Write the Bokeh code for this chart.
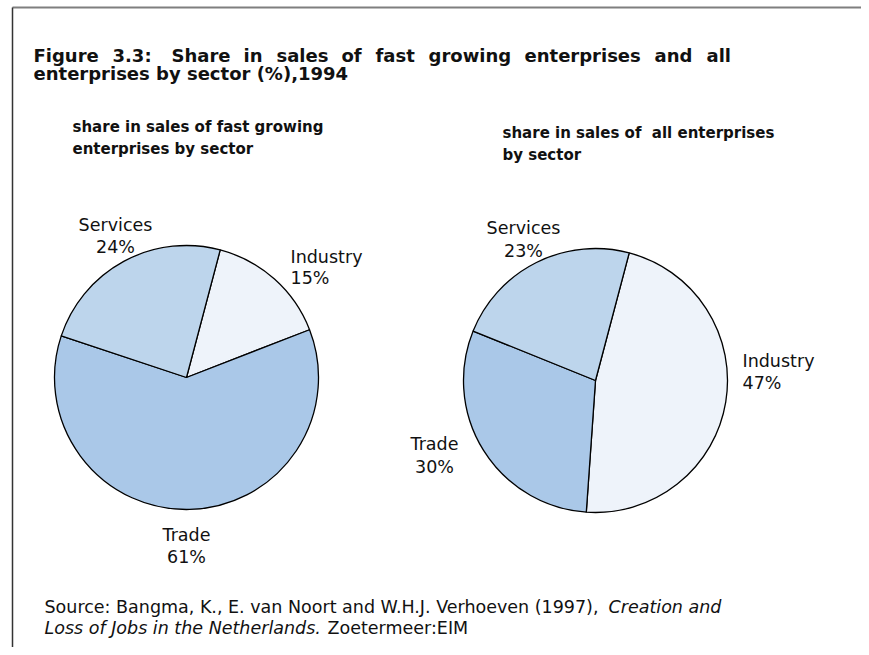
import math
from bokeh.plotting import figure
from bokeh.models import Range1d
from bokeh.core.properties import value
from bokeh.embed import file_html
from bokeh.resources import INLINE

# ---- data ----
sectors = ["Industry", "Trade", "Services"]
fast_share = [15, 61, 24]
all_share = [47, 30, 23]
sector_colors = ["#EEF3FA", "#AAC8E8", "#BDD5EC"]

title_words_1 = ["Figure", "3.3:", "Share", "in", "sales", "of", "fast", "growing",
                 "enterprises", "and", "all"]
title_line_2 = "enterprises by sector (%),1994"
left_sub = ["share in sales of fast growing", "enterprises by sector"]
right_sub = ["share in sales of\u00a0 all enterprises", "by sector"]

W, H = 861, 647


def X(xr):
    return xr


def Y(yr):
    return H - yr


p = figure(width=W, height=H, x_range=Range1d(0, W), y_range=Range1d(0, H),
           output_backend="svg", toolbar_location=None, min_border=0,
           x_axis_type=None, y_axis_type=None)
p.grid.visible = False
p.outline_line_color = None
p.background_fill_color = "white"
p.border_fill_color = "white"

# frame lines
p.line([X(12), X(W)], [Y(7), Y(7)], line_color="#7f7f7f", line_width=2)
p.line([X(12), X(12)], [Y(7), 0], line_color="#333333", line_width=1.5)

START_CW = 14.8


def draw_pie(cx, cy, r, shares):
    total = float(sum(shares))
    acc = START_CW
    sa, ea = [], []
    for v in shares:
        s = acc
        e = acc + 360.0 * v / total
        sa.append(math.radians(90 - s))
        ea.append(math.radians(90 - e))
        acc = e
    p.wedge(x=[X(cx)] * len(shares), y=[Y(cy)] * len(shares), radius=r,
            radius_units="screen", start_angle=sa, end_angle=ea,
            direction="clock", fill_color=sector_colors,
            line_color="black", line_width=1.3)


draw_pie(186, 377, 132, fast_share)
draw_pie(595, 380, 132, all_share)


def txt(x, y, s, size="17.5px", align="left", style="normal", font="DejaVu Sans"):
    p.text(x=[X(x)], y=[Y(y)], text=[s], text_font=value(font),
           text_font_size=size, text_align=align, text_baseline="alphabetic",
           text_font_style=style, text_color="#111111")


# title (first line is justified in the original)
title_word_x = [33, 112, 171, 243, 276, 341, 375, 428, 524, 654, 706]
for wx, w in zip(title_word_x, title_words_1):
    txt(wx, 55, w, size="18px", style="bold")
txt(33, 73, title_line_2, size="18px", style="bold")

# subtitles
txt(72, 126, left_sub[0], size="15px", style="bold")
txt(72, 148, left_sub[1], size="15px", style="bold")
txt(502, 132, right_sub[0], size="15px", style="bold")
txt(502, 154, right_sub[1], size="15px", style="bold")

# pie labels
txt(115, 224, sectors[2], align="center")
txt(115, 246, f"{fast_share[2]}%", align="center")
txt(290, 256, sectors[0])
txt(290, 277, f"{fast_share[0]}%")
txt(186, 534, sectors[1], align="center")
txt(186, 556, f"{fast_share[1]}%", align="center")

txt(523, 227, sectors[2], align="center")
txt(523, 250, f"{all_share[2]}%", align="center")
txt(742, 360, sectors[0])
txt(742, 382, f"{all_share[0]}%")
txt(434, 443, sectors[1], align="center")
txt(434, 466, f"{all_share[1]}%", align="center")

# source
txt(44, 606, "Source: Bangma, K., E. van Noort and W.H.J. Verhoeven (1997),")
txt(608, 606, "Creation and", style="italic")
txt(44, 627, "Loss of Jobs in the Netherlands.", style="italic")
txt(327, 627, "Zoetermeer:EIM")

open("out.html", "w").write(file_html(p, INLINE))
